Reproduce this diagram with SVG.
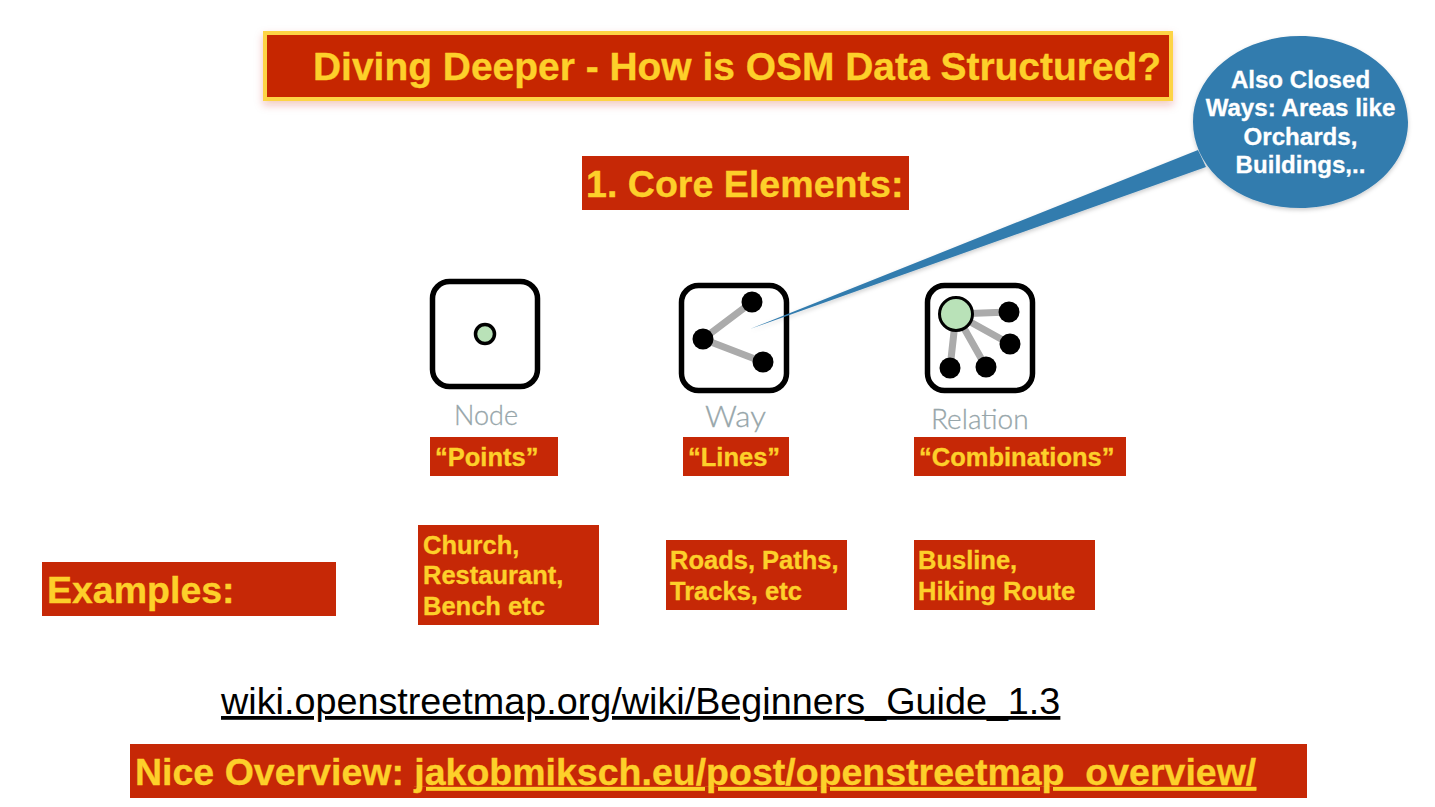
<svg xmlns="http://www.w3.org/2000/svg" width="1435" height="807" viewBox="0 0 1435 807">
<style>
.box{fill:#c62806}
.t{font-family:"Liberation Sans",Arial,sans-serif;font-weight:bold;fill:#fdd02a;stroke:#fdd02a;stroke-width:.35}
.s{font-size:25.5px}
.c{font-family:"Liberation Sans",Arial,sans-serif;font-weight:bold;fill:#fff;stroke:#fff;stroke-width:.3;font-size:24.1px;text-anchor:middle}
.frame{fill:#fff;stroke:#000;stroke-width:5.500}
.edge{stroke:#ababab;stroke-width:7;fill:none}
.lab{font-family:Lato,"Open Sans",sans-serif;font-weight:300;fill:#97a6aa;stroke:#97a6aa;stroke-width:.3;font-size:28px}
</style>
<defs>
<filter id="sh" x="-5%" y="-20%" width="110%" height="145%"><feDropShadow dx="0" dy="4" stdDeviation="4" flood-color="#c62806" flood-opacity=".25"/></filter>
<filter id="sb" x="-10%" y="-10%" width="120%" height="125%"><feDropShadow dx="0" dy="2" stdDeviation="2" flood-color="#000" flood-opacity=".2"/></filter>
</defs>
<rect width="1435" height="807" fill="#fff"/>
<g id="title"><rect x="265" y="33" width="906" height="66" fill="#c62806" stroke="#fdd444" stroke-width="4" filter="url(#sh)"/><text class="t" x="313" y="80" font-size="38.95">Diving Deeper - How is OSM Data Structured?</text></g>
<g id="core"><rect class="box" x="582" y="156" width="327" height="54"/><text class="t" x="586" y="197" font-size="37.6">1. Core Elements:</text></g>
<g id="node-icon"><rect class="frame" x="432.500" y="281.500" width="105" height="105" rx="17"/><circle cx="485" cy="334" r="9.500" fill="#b9e2b8" stroke="#000" stroke-width="3.500"/><text class="lab" x="454" y="425" style="font-size:27px">Node</text></g>
<g id="way-icon"><rect class="frame" x="681.500" y="285.500" width="105" height="105" rx="17"/><path class="edge" d="M752 302 703 339 763 362"/><circle cx="752" cy="302" r="10.500"/><circle cx="703" cy="339" r="10.500"/><circle cx="763" cy="362" r="10.500"/><text class="lab" x="705" y="427" style="font-size:30px" textLength="61" lengthAdjust="spacingAndGlyphs">Way</text></g>
<g id="relation-icon"><rect class="frame" x="927.500" y="285.500" width="105" height="105" rx="17"/><path class="edge" d="M956 314 1009 312M956 314 1010 344M956 314 950 368M956 314 986 367"/><circle cx="956" cy="314" r="16.500" fill="#b9e2b8" stroke="#000" stroke-width="3"/><circle cx="1009" cy="312" r="10.500"/><circle cx="1010" cy="344" r="10.500"/><circle cx="950" cy="368" r="10.500"/><circle cx="986" cy="367" r="10.500"/><text class="lab" x="931" y="429">Relation</text></g>
<g id="points"><rect class="box" x="430" y="437" width="128" height="39"/><text class="t s" x="435" y="466">“Points”</text></g>
<g id="lines"><rect class="box" x="683" y="437" width="106" height="39"/><text class="t s" x="688" y="466">“Lines”</text></g>
<g id="combinations"><rect class="box" x="914" y="437" width="212" height="39"/><text class="t s" x="919" y="466">“Combinations”</text></g>
<g id="examples"><rect class="box" x="42" y="562" width="294" height="54"/><text class="t" x="47" y="603" font-size="37.5">Examples:</text></g>
<g id="ex-node"><rect class="box" x="418" y="525" width="181" height="100"/><text class="t s" x="423" y="554">Church,</text><text class="t s" x="423" y="584">Restaurant,</text><text class="t s" x="423" y="615">Bench etc</text></g>
<g id="ex-way"><rect class="box" x="666" y="540" width="181" height="70"/><text class="t s" x="670" y="569">Roads, Paths,</text><text class="t s" x="670" y="600">Tracks, etc</text></g>
<g id="ex-relation"><rect class="box" x="914" y="540" width="181" height="70"/><text class="t s" x="918" y="569">Busline,</text><text class="t s" x="918" y="600">Hiking Route</text></g>
<g id="wiki-link"><text x="221" y="714" font-family="Liberation Sans,Arial,sans-serif" font-size="37.75" fill="#000" text-decoration="underline">wiki.openstreetmap.org/wiki/Beginners_Guide_1.3</text></g>
<g id="overview"><rect class="box" x="130" y="744" width="1177" height="54"/><text class="t" x="135" y="785" font-size="37.5">Nice Overview: <tspan text-decoration="underline">jakobmiksch.eu/post/openstreetmap_overview/</tspan></text></g>
<g id="callout"><path d="M1198 150 750 329 1206 167Z M1300 36C1360 36 1408 74 1408 122S1360 208 1300 208 1193 170 1193 122 1241 36 1300 36Z" fill="#337cae" filter="url(#sb)"/><text class="c" x="1300.500" y="88">Also Closed</text><text class="c" x="1300.500" y="116">Ways: Areas like</text><text class="c" x="1300.500" y="145">Orchards,</text><text class="c" x="1300.500" y="173">Buildings,..</text></g>
<g id="connectors"></g>
</svg>
